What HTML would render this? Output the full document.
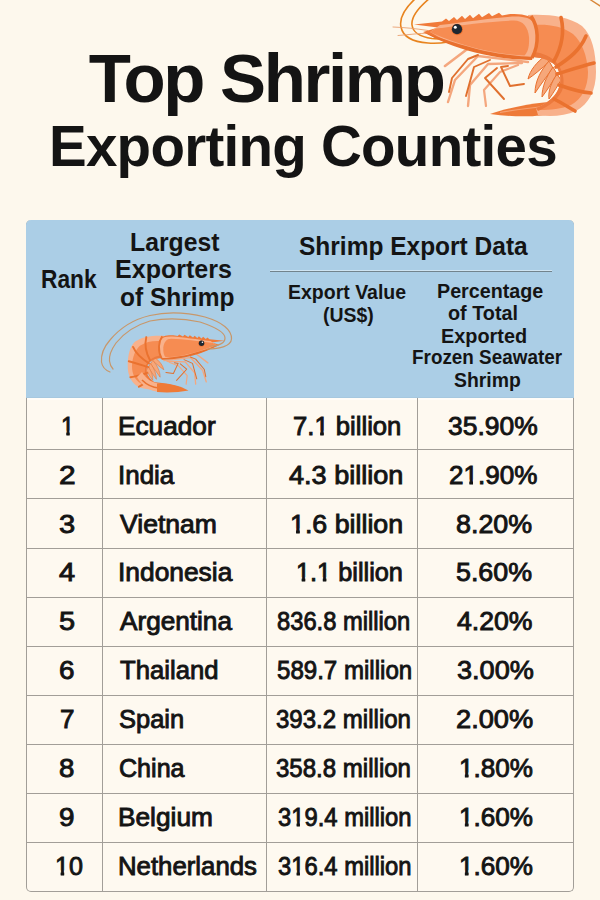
<!DOCTYPE html>
<html><head><meta charset="utf-8"><style>
html,body{margin:0;padding:0}
body{width:600px;height:900px;position:relative;overflow:hidden;background:#fdf8ed;font-family:"Liberation Sans",sans-serif}
.t{position:absolute;white-space:nowrap;transform-origin:0 0}
#tbl{position:absolute;left:26px;top:220px;width:548px;height:672px;border:1px solid #a29e98;border-top:none;border-radius:5px;background:#fef9f0;box-sizing:border-box}
#hdr{position:absolute;left:26px;top:220px;width:548px;height:178px;background:#abcee6;border-radius:5px 5px 0 0}
.hl{position:absolute;left:26px;width:548px;height:1px;background:#a29e98}
.vl{position:absolute;top:398px;width:1px;height:493px;background:#a29e98}
.one{display:inline-block;clip-path:polygon(-2px -2px,40px -2px,40px 16.69px,9.29px 16.69px,9.29px 60px,5.75px 60px,5.75px 16.69px,-2px 16.69px)}
#sep{position:absolute;left:270px;top:271px;width:282px;height:1px;background:#72838c}
</style></head><body>
<div id="tbl"></div>
<div id="hdr"></div>
<div style="position:absolute;left:270px;top:270px;width:282px;height:1px;background:#cfe4f2"></div>
<div id="sep"></div>
<div style="position:absolute;left:26px;top:397px;width:548px;height:1px;background:#a6c8df"></div>
<div style="position:absolute;left:27px;top:398px;width:546px;height:1.5px;background:#fffdf8"></div>
<div class="hl" style="top:449px"></div><div class="hl" style="top:498px"></div><div class="hl" style="top:548px"></div><div class="hl" style="top:597px"></div><div class="hl" style="top:646px"></div><div class="hl" style="top:695px"></div><div class="hl" style="top:744px"></div><div class="hl" style="top:793px"></div><div class="hl" style="top:842px"></div><div class="vl" style="left:102px"></div><div class="vl" style="left:266px"></div><div class="vl" style="left:417px"></div>
<svg style="position:absolute;left:0;top:0" width="600" height="900" viewBox="0 0 600 900">
<g fill="none" stroke="#e8841f" stroke-width="1.6" stroke-linecap="round">
 <path d="M416,-2 C405,8 399,18 401,27 C403,37 414,42 428,43 C436,43.5 442,43 448,42"/>
 <path d="M430,-2 C418,8 411,17 412,25 C413,33 421,37 432,38.5 C438,39 443,39.5 448,39.5"/>
</g>
<g fill="none" stroke="#eaa070" stroke-width="0.9" stroke-linecap="round">
 <path d="M393,27 C405,27.5 415,28.5 428,30.5"/>
 <path d="M398,35.5 C410,34.5 418,33.5 430,33"/>
</g>
<path d="M590,-0.5 L601,6.5" fill="none" stroke="#d8873a" stroke-width="1.4"/>
<g id="sbody">
 <g fill="none" stroke-linecap="round" stroke-linejoin="round">
  <path d="M530,59 L470,47 L445,66" stroke="#f4a77e" stroke-width="2.6"/>
  <path d="M528,62 L478,56 L455,80 L448,102" stroke="#f4a77e" stroke-width="2.4"/>
  <path d="M522,63 L488,64 L470,85 L468,106" stroke="#f4a77e" stroke-width="2.4"/>
  <path d="M518,65 L500,72 L484,90 L486,106" stroke="#f4a77e" stroke-width="2.2"/>
  <path d="M478,55 L468,59 L452,78 L449,92" stroke="#e0702e" stroke-width="1.9"/>
  <path d="M490,60 L474,67 L466,96" stroke="#e0702e" stroke-width="1.9"/>
  <path d="M497,68 L485,78 L504,99" stroke="#e0702e" stroke-width="1.9"/>
  <path d="M508,66 L501,67 L510,86 L524,84" stroke="#e0702e" stroke-width="1.9"/>
 </g>
 <path d="M490,114 C505,109 525,104 548,102 L557,113 C540,117 515,117.5 490,114 Z" fill="#ee7a38"/>
 <path d="M500,112.5 C515,110 530,108 548,106" fill="none" stroke="#f6a070" stroke-width="1.2"/>
 <g fill="#f6a77a" stroke="#e8702e" stroke-width="1">
  <path d="M545,56 C537,62 530,70 528,79 C534,75 541,69 549,62 Z"/>
  <path d="M549,61 C541,70 535,81 535,93 C541,84 547,76 553,68 Z"/>
  <path d="M553,67 C546,77 542,87 542,97 C548,89 553,81 557,74 Z"/>
  <path d="M557,74 C551,83 548,91 549,99 C554,92 558,85 561,80 Z"/>
 </g>
 <path d="M528,15 C548,14 568,16 582,26 C592,35 596,52 596,72 C596,90 589,104 576,111 C565,116 550,117 538,115 L536,108 C546,104 554,98 558,90 C562,82 561,73 556,66 C549,59 540,57 530,57 Z" fill="#f8b18b"/>
 <path d="M533,25 C548,24 562,26 573,34 C582,42 587,55 588,72 C588,87 582,99 571,105 C562,109 550,110 540,110 L536,108 C546,104 554,98 558,90 C562,82 561,73 556,66 C549,59 540,57 530,57 Z" fill="#f68c52"/>
 <path d="M530,57 C540,57 549,59 556,66 C561,73 562,82 558,90 C554,98 546,104 536,108 L538,111 C550,106 560,98 563,88 C565,78 562,68 556,62 C549,55 540,52 530,52 Z" fill="#ec7a3e"/>
 <g fill="none" stroke="#ea722f" stroke-width="3.6" stroke-linecap="round">
  <path d="M561,17.5 C564,30 563,45 554,61"/>
  <path d="M586,36 C580,50 570,58 556,67"/>
  <path d="M557,74 C570,70 582,66 594,63"/>
  <path d="M559,85 C570,89 580,92 591,93"/>
  <path d="M554,99 C562,103 568,107 575,111"/>
 </g>
 <path d="M414,24.5 L442,21.5 L446,18.5 L449,21 L454,17 L457,20 L462,15.8 L465,19 L470,14.8 L473,18.2 L479,13.8 L482,17.2 L489,13 L492,16.2 L499,12.8 L502,15.6 L510,14 C522,14 530,15 534,20 C538,28 538,45 533,58 C515,59 490,56 470,50 C452,45 436,38 423,32 L438,27.5 Z" fill="#f07a3a"/>
 <path d="M440,25 C465,22 492,18 512,16.5 C524,16 531,18 533.5,23 C537,30 537,45 532.5,57 C515,58 492,55 472,49.5 C455,45 440,38 430,32 Z" fill="#f8b18b"/>
 <path d="M436,28.5 C462,25 492,21 514,20.5 C523,20.5 528,27 529,37 C529.5,46 528,52 524.5,55.5 C505,55 485,51 468,46 C452,41 440,37 430,32 Z" fill="#f68c52"/>
 <path d="M423,32 C440,38 460,45 485,51 C505,55 520,56.5 533,57 L532,60 C515,60 495,57.5 475,52.5 C455,47.5 438,40 423,32 Z" fill="#e8702e"/>
 <path d="M531,16 C538,26 540,43 532,58" fill="none" stroke="#ea722f" stroke-width="3.5"/>
 <circle cx="457.2" cy="29.5" r="5.8" fill="#e8702e"/>
 <circle cx="457" cy="29.2" r="5.1" fill="#1d2731"/>
 <circle cx="455.3" cy="27.2" r="1.5" fill="#ffffff"/>
</g>
<g transform="matrix(-0.531,0,0,0.531,444.2,327.8)"><use href="#sbody"/></g>
<path d="M137,377 C142,386 150,391.5 160,392 L160,383.5 C152,383 146,379 142,372 Z" fill="#f8b18b"/>
<path d="M142,380 C147,385 152,387.5 159,388" fill="none" stroke="#ea722f" stroke-width="1.6"/>
<path d="M157,383.5 C167,382.5 179,385.5 188.5,390.5 C179,392.5 166,392.8 157,392 Z" fill="#ef7a36"/>
<g fill="none" stroke="#c8976a" stroke-width="1.2" stroke-linecap="round">
 <path d="M207,349 C220,349 231,346 231.5,339 C232,330 222,322 205,317 C185,312 165,312 150,315.5 C135,319 120,328 110,340 C103,348 101,356 101.5,362 C102,366 105,370 110,372"/>
 <path d="M210,346 C219,346 225,343 225,338 C225,332 215,327 200,322 C182,318 165,318 150,321 C136,325 124,333 116,343 C111,350 109,356 109.5,361 C110,365 111,367 113,369"/>
</g>
</svg>

<div class="t" style="left:88.80px;top:44.20px;font-size:69.00px;line-height:69.00px;font-weight:700;color:#141414;letter-spacing:-2.337px;">Top Shrimp</div>
<div class="t" style="left:48.97px;top:119.00px;font-size:56.50px;line-height:56.50px;font-weight:700;color:#141414;letter-spacing:-0.731px;">Exporting Counties</div>
<div class="t" style="left:40.55px;top:266.52px;font-size:25.07px;line-height:25.07px;font-weight:700;color:#141414;transform:scaleX(0.9086);">Rank</div>
<div class="t" style="left:130.45px;top:228.85px;font-size:26.16px;line-height:26.16px;font-weight:700;color:#141414;transform:scaleX(0.9467);">Largest</div>
<div class="t" style="left:115.33px;top:256.45px;font-size:26.16px;line-height:26.16px;font-weight:700;color:#141414;transform:scaleX(0.9578);">Exporters</div>
<div class="t" style="left:120.43px;top:283.55px;font-size:26.16px;line-height:26.16px;font-weight:700;color:#141414;transform:scaleX(0.9376);">of Shrimp</div>
<div class="t" style="left:298.87px;top:232.60px;font-size:26.16px;line-height:26.16px;font-weight:700;color:#141414;transform:scaleX(0.9365);">Shrimp Export Data</div>
<div class="t" style="left:287.77px;top:281.82px;font-size:20.64px;line-height:20.64px;font-weight:700;color:#141414;transform:scaleX(0.9452);">Export Value</div>
<div class="t" style="left:322.56px;top:304.52px;font-size:20.64px;line-height:20.64px;font-weight:700;color:#141414;transform:scaleX(0.9438);">(US$)</div>
<div class="t" style="left:436.86px;top:280.92px;font-size:20.64px;line-height:20.64px;font-weight:700;color:#141414;transform:scaleX(0.9562);">Percentage</div>
<div class="t" style="left:448.33px;top:303.32px;font-size:20.64px;line-height:20.64px;font-weight:700;color:#141414;transform:scaleX(0.9598);">of Total</div>
<div class="t" style="left:441.15px;top:325.52px;font-size:20.64px;line-height:20.64px;font-weight:700;color:#141414;transform:scaleX(0.9627);">Exported</div>
<div class="t" style="left:411.81px;top:347.12px;font-size:20.64px;line-height:20.64px;font-weight:700;color:#141414;transform:scaleX(0.9152);">Frozen Seawater</div>
<div class="t" style="left:453.53px;top:369.52px;font-size:20.64px;line-height:20.64px;font-weight:700;color:#141414;transform:scaleX(0.9400);">Shrimp</div>
<div class="t" style="left:60.65px;top:413.86px;font-size:25.44px;line-height:25.44px;font-weight:400;color:#141414;-webkit-text-stroke:0.9px #141414;transform:scaleX(0.9333);"><span class="one">1</span></div>
<div class="t" style="left:118.30px;top:413.86px;font-size:25.44px;line-height:25.44px;font-weight:400;color:#141414;-webkit-text-stroke:0.9px #141414;transform:scaleX(1.0304);">Ecuador</div>
<div class="t" style="left:293.34px;top:413.86px;font-size:25.44px;line-height:25.44px;font-weight:400;color:#141414;-webkit-text-stroke:0.9px #141414;transform:scaleX(1.0083);">7.<span class="one">1</span> billion</div>
<div class="t" style="left:447.73px;top:413.86px;font-size:25.44px;line-height:25.44px;font-weight:400;color:#141414;-webkit-text-stroke:0.9px #141414;transform:scaleX(1.0392);">35.90%</div>
<div class="t" style="left:59.12px;top:462.72px;font-size:25.44px;line-height:25.44px;font-weight:400;color:#141414;-webkit-text-stroke:0.9px #141414;transform:scaleX(1.1746);">2</div>
<div class="t" style="left:118.01px;top:462.72px;font-size:25.44px;line-height:25.44px;font-weight:400;color:#141414;-webkit-text-stroke:0.9px #141414;transform:scaleX(1.0202);">India</div>
<div class="t" style="left:288.95px;top:462.72px;font-size:25.44px;line-height:25.44px;font-weight:400;color:#141414;-webkit-text-stroke:0.9px #141414;transform:scaleX(1.0638);">4.3 billion</div>
<div class="t" style="left:449.03px;top:462.72px;font-size:25.44px;line-height:25.44px;font-weight:400;color:#141414;-webkit-text-stroke:0.9px #141414;transform:scaleX(1.0241);">2<span class="one">1</span>.90%</div>
<div class="t" style="left:59.48px;top:511.58px;font-size:25.44px;line-height:25.44px;font-weight:400;color:#141414;-webkit-text-stroke:0.9px #141414;transform:scaleX(1.1450);">3</div>
<div class="t" style="left:120.27px;top:511.58px;font-size:25.44px;line-height:25.44px;font-weight:400;color:#141414;-webkit-text-stroke:0.9px #141414;transform:scaleX(1.0439);">Vietnam</div>
<div class="t" style="left:290.17px;top:511.58px;font-size:25.44px;line-height:25.44px;font-weight:400;color:#141414;-webkit-text-stroke:0.9px #141414;transform:scaleX(1.0522);"><span class="one">1</span>.6 billion</div>
<div class="t" style="left:456.31px;top:511.58px;font-size:25.44px;line-height:25.44px;font-weight:400;color:#141414;-webkit-text-stroke:0.9px #141414;transform:scaleX(1.0548);">8.20%</div>
<div class="t" style="left:59.14px;top:560.44px;font-size:25.44px;line-height:25.44px;font-weight:400;color:#141414;-webkit-text-stroke:0.9px #141414;transform:scaleX(1.1367);">4</div>
<div class="t" style="left:117.98px;top:560.44px;font-size:25.44px;line-height:25.44px;font-weight:400;color:#141414;-webkit-text-stroke:0.9px #141414;transform:scaleX(1.0361);">Indonesia</div>
<div class="t" style="left:296.36px;top:560.44px;font-size:25.44px;line-height:25.44px;font-weight:400;color:#141414;-webkit-text-stroke:0.9px #141414;transform:scaleX(0.9941);"><span class="one">1</span>.<span class="one">1</span> billion</div>
<div class="t" style="left:456.42px;top:560.44px;font-size:25.44px;line-height:25.44px;font-weight:400;color:#141414;-webkit-text-stroke:0.9px #141414;transform:scaleX(1.0533);">5.60%</div>
<div class="t" style="left:59.37px;top:609.30px;font-size:25.44px;line-height:25.44px;font-weight:400;color:#141414;-webkit-text-stroke:0.9px #141414;transform:scaleX(1.1385);">5</div>
<div class="t" style="left:120.36px;top:609.30px;font-size:25.44px;line-height:25.44px;font-weight:400;color:#141414;-webkit-text-stroke:0.9px #141414;transform:scaleX(1.0279);">Argentina</div>
<div class="t" style="left:276.69px;top:609.30px;font-size:25.44px;line-height:25.44px;font-weight:400;color:#141414;-webkit-text-stroke:0.9px #141414;transform:scaleX(0.9322);">836.8 million</div>
<div class="t" style="left:456.95px;top:609.30px;font-size:25.44px;line-height:25.44px;font-weight:400;color:#141414;-webkit-text-stroke:0.9px #141414;transform:scaleX(1.0459);">4.20%</div>
<div class="t" style="left:59.18px;top:658.16px;font-size:25.44px;line-height:25.44px;font-weight:400;color:#141414;-webkit-text-stroke:0.9px #141414;transform:scaleX(1.0938);">6</div>
<div class="t" style="left:119.85px;top:658.16px;font-size:25.44px;line-height:25.44px;font-weight:400;color:#141414;-webkit-text-stroke:0.9px #141414;transform:scaleX(1.0091);">Thailand</div>
<div class="t" style="left:276.78px;top:658.16px;font-size:25.44px;line-height:25.44px;font-weight:400;color:#141414;-webkit-text-stroke:0.9px #141414;transform:scaleX(0.9464);">589.7 million</div>
<div class="t" style="left:456.52px;top:658.16px;font-size:25.44px;line-height:25.44px;font-weight:400;color:#141414;-webkit-text-stroke:0.9px #141414;transform:scaleX(1.0658);">3.00%</div>
<div class="t" style="left:60.33px;top:707.02px;font-size:25.44px;line-height:25.44px;font-weight:400;color:#141414;-webkit-text-stroke:0.9px #141414;transform:scaleX(1.0240);">7</div>
<div class="t" style="left:119.25px;top:707.02px;font-size:25.44px;line-height:25.44px;font-weight:400;color:#141414;-webkit-text-stroke:0.9px #141414;transform:scaleX(1.0014);">Spain</div>
<div class="t" style="left:275.87px;top:707.02px;font-size:25.44px;line-height:25.44px;font-weight:400;color:#141414;-webkit-text-stroke:0.9px #141414;transform:scaleX(0.9450);">393.2 million</div>
<div class="t" style="left:456.20px;top:707.02px;font-size:25.44px;line-height:25.44px;font-weight:400;color:#141414;-webkit-text-stroke:0.9px #141414;transform:scaleX(1.0703);">2.00%</div>
<div class="t" style="left:59.29px;top:755.88px;font-size:25.44px;line-height:25.44px;font-weight:400;color:#141414;-webkit-text-stroke:0.9px #141414;transform:scaleX(1.0853);">8</div>
<div class="t" style="left:119.16px;top:755.88px;font-size:25.44px;line-height:25.44px;font-weight:400;color:#141414;-webkit-text-stroke:0.9px #141414;transform:scaleX(0.9862);">China</div>
<div class="t" style="left:275.87px;top:755.88px;font-size:25.44px;line-height:25.44px;font-weight:400;color:#141414;-webkit-text-stroke:0.9px #141414;transform:scaleX(0.9450);">358.8 million</div>
<div class="t" style="left:458.52px;top:755.88px;font-size:25.44px;line-height:25.44px;font-weight:400;color:#141414;-webkit-text-stroke:0.9px #141414;transform:scaleX(1.0241);"><span class="one">1</span>.80%</div>
<div class="t" style="left:59.29px;top:804.74px;font-size:25.44px;line-height:25.44px;font-weight:400;color:#141414;-webkit-text-stroke:0.9px #141414;transform:scaleX(1.0938);">9</div>
<div class="t" style="left:118.30px;top:804.74px;font-size:25.44px;line-height:25.44px;font-weight:400;color:#141414;-webkit-text-stroke:0.9px #141414;transform:scaleX(1.0324);">Belgium</div>
<div class="t" style="left:278.38px;top:804.74px;font-size:25.44px;line-height:25.44px;font-weight:400;color:#141414;-webkit-text-stroke:0.9px #141414;transform:scaleX(0.9351);">3<span class="one">1</span>9.4 million</div>
<div class="t" style="left:458.52px;top:804.74px;font-size:25.44px;line-height:25.44px;font-weight:400;color:#141414;-webkit-text-stroke:0.9px #141414;transform:scaleX(1.0241);"><span class="one">1</span>.60%</div>
<div class="t" style="left:54.57px;top:853.60px;font-size:25.44px;line-height:25.44px;font-weight:400;color:#141414;-webkit-text-stroke:0.9px #141414;transform:scaleX(0.9869);"><span class="one">1</span>0</div>
<div class="t" style="left:118.33px;top:853.60px;font-size:25.44px;line-height:25.44px;font-weight:400;color:#141414;-webkit-text-stroke:0.9px #141414;transform:scaleX(1.0131);">Netherlands</div>
<div class="t" style="left:278.38px;top:853.60px;font-size:25.44px;line-height:25.44px;font-weight:400;color:#141414;-webkit-text-stroke:0.9px #141414;transform:scaleX(0.9351);">3<span class="one">1</span>6.4 million</div>
<div class="t" style="left:458.52px;top:853.60px;font-size:25.44px;line-height:25.44px;font-weight:400;color:#141414;-webkit-text-stroke:0.9px #141414;transform:scaleX(1.0241);"><span class="one">1</span>.60%</div>
</body></html>
